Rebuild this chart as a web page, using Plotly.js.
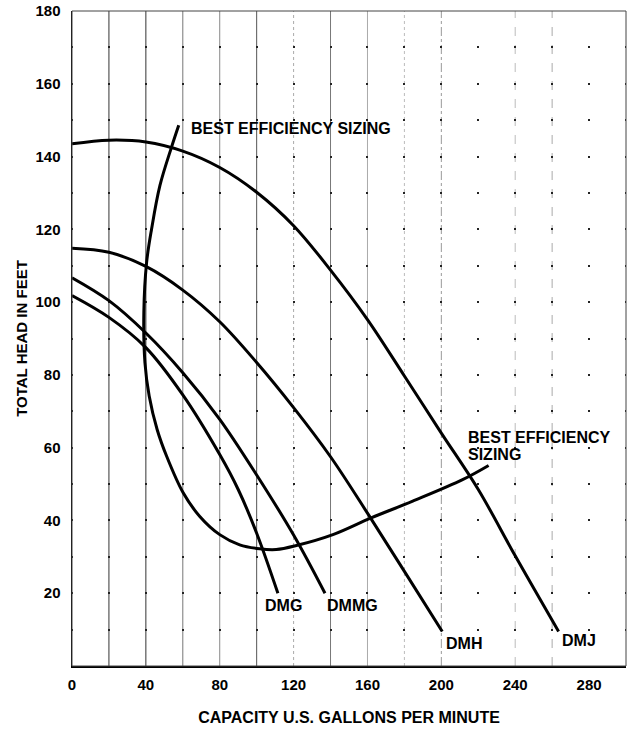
<!DOCTYPE html>
<html><head><meta charset="utf-8">
<script src="https://cdn.plot.ly/plotly-3.0.1.min.js"></script>
<style>html,body{margin:0;padding:0;background:#fff}#chart{width:629px;height:731px}</style>
</head><body><div id="chart"></div>
<script>
// ---- data ----
const dmgX  = [0, 20, 40, 60, 80, 90, 100, 111.5];
const dmgY  = [101.8, 95.8, 87.5, 74.5, 58.1, 48.5, 36.5, 20];
const dmmgX = [0, 20, 40, 60, 80, 100, 120, 137];
const dmmgY = [106.7, 100.4, 91.5, 80.6, 67.8, 52.5, 36, 20];
const dmhX  = [0, 20, 40, 60, 80, 100, 120, 140, 160, 180, 200.5];
const dmhY  = [114.8, 113.7, 109.8, 103.3, 94.6, 83.4, 71, 57.5, 42, 26, 9.5];
const dmjX  = [0, 20, 40, 60, 80, 100, 120, 140, 160, 180, 200, 220, 240, 263.5];
const dmjY  = [143.5, 144.5, 144, 141.5, 137, 130.2, 121, 108.8, 95.2, 79.7, 64, 48.5, 30.3, 9.5];
const bestX = [57.8, 53.9, 47.6, 43.1, 40.4, 38.9, 39.5, 41.8, 46.1, 51.2, 60.2, 69.2, 80, 90.8, 101.6, 110.6, 121.5, 141.3, 162, 184.5, 211.5, 225.6];
const bestY = [148.6, 142.6, 132, 120.1, 110.9, 97.2, 83.4, 74.2, 65, 57.7, 47.6, 41.1, 36.1, 33.3, 32.2, 32, 33.1, 36.1, 40.7, 45.3, 51.2, 55.1];

const xTickVals = [0, 40, 80, 120, 160, 200, 240, 280];
const xTickText = ['0', '40', '80', '120', '160', '200', '240', '280'];
const yTickVals = [0, 10, 20, 30, 40, 50, 60, 70, 80, 90, 100, 110, 120, 130, 140, 150, 160, 170, 180];
const yTickText = ['', '', '20', '', '40', '', '60', '', '80', '', '100', '', '120', '', '140', '', '160', '', '180'];
const gridX = [20, 40, 60, 80, 100, 120, 140, 160, 180, 200, 220, 240, 260, 280];

const curveLabels = ['DMG', 'DMMG', 'DMH', 'DMJ'];
const curveLabelX = [114.3, 151.9, 212.4, 274.6];
const curveLabelY = [16.5, 16.5, 6.3, 6.9];

const noteText = ['BEST EFFICIENCY SIZING', 'BEST EFFICIENCY', 'SIZING'];
const noteX = [63.4, 213.3, 213.3];
const noteY = [147.7, 62.7, 58.2];

const xTitle = 'CAPACITY U.S. GALLONS PER MINUTE';
const yTitle = 'TOTAL HEAD IN FEET';

// ---- presentation ----
const FONT = 'Liberation Sans, Arial, Helvetica, sans-serif';
const W = 629, H = 731, M = {l: 72, r: 3, t: 11, b: 65};
const plotW = W - M.l - M.r;
const XMAX = 300;
const dotPeriod = plotW / XMAX * 20;
const dotDash = '1px,' + (dotPeriod - 2).toFixed(2) + 'px,1px,0px';

const line = {color: '#000', width: 3, shape: 'spline', smoothing: 1};
function tr(x, y) { return {x: x, y: y, mode: 'lines', line: line, hoverinfo: 'skip', showlegend: false}; }
const data = [tr(dmgX, dmgY), tr(dmmgX, dmmgY), tr(dmhX, dmhY), tr(dmjX, dmjY), tr(bestX, bestY)];

const gridStyle = {
  20: ['#333', 'solid'], 40: ['#333', 'solid'], 60: ['#777', 'solid'], 80: ['#888', 'solid'],
  100: ['#555', 'solid'], 120: ['#aaa', 'dot'], 140: ['#777', 'solid'], 160: ['#aaa', 'solid'],
  180: ['#bbb', 'dot'], 200: ['#999', 'dashdot'], 220: null, 240: ['#bbb', 'dash'],
  260: ['#aaa', 'dash'], 280: null
};
const shapes = [];
gridX.forEach(v => {
  const s = gridStyle[v];
  if (!s) return;
  shapes.push({type: 'line', layer: 'below', xref: 'x', yref: 'paper', x0: v, x1: v, y0: 0, y1: 1,
               line: {color: s[0], width: 1, dash: s[1]}});
});
shapes.push({type: 'rect', xref: 'paper', yref: 'paper', x0: 0, x1: 1, y0: 0, y1: 1,
             line: {color: '#444', width: 1}, layer: 'above'});

const annotations = [];
curveLabels.forEach((t, i) => annotations.push({
  text: t, x: curveLabelX[i], y: curveLabelY[i], xref: 'x', yref: 'y', showarrow: false,
  xanchor: 'center', yanchor: 'middle', font: {family: FONT, size: 16, color: '#000', weight: 700}
}));
noteText.forEach((t, i) => annotations.push({
  text: t, x: noteX[i], y: noteY[i], xref: 'x', yref: 'y', showarrow: false,
  xanchor: 'left', yanchor: 'middle', font: {family: FONT, size: 16, color: '#000', weight: 700}
}));

const layout = {
  width: W, height: H, margin: M,
  paper_bgcolor: '#fff', plot_bgcolor: '#fff',
  font: {family: FONT, color: '#000'},
  xaxis: {
    range: [0, XMAX], tickmode: 'array', tickvals: xTickVals, ticktext: xTickText,
    showgrid: false, zeroline: false, showline: true, linecolor: '#000', linewidth: 1.5,
    ticks: '', ticklabelstandoff: 4,
    tickfont: {family: FONT, size: 15, color: '#000', weight: 700},
    title: {text: xTitle, standoff: 20, font: {family: FONT, size: 16, color: '#000', weight: 700}}
  },
  yaxis: {
    range: [0, 180], tickmode: 'array', tickvals: yTickVals, ticktext: yTickText,
    showgrid: true, gridcolor: '#222', gridwidth: 2, griddash: dotDash,
    zeroline: false, showline: true, linecolor: '#000', linewidth: 1.5,
    ticks: '', ticklabelstandoff: 7,
    tickfont: {family: FONT, size: 15, color: '#000', weight: 700},
    title: {text: yTitle, standoff: 4, font: {family: FONT, size: 15, color: '#000', weight: 700}}
  },
  shapes: shapes,
  annotations: annotations
};
Plotly.newPlot('chart', data, layout, {displayModeBar: false, staticPlot: true});
</script>
</body></html>
